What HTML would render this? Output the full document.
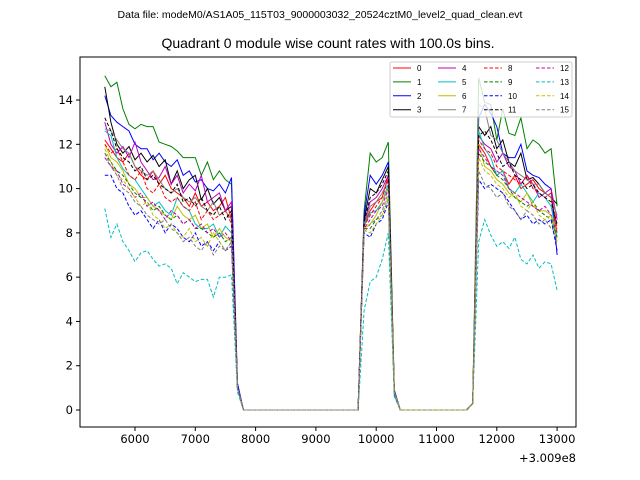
<!DOCTYPE html>
<html><head><meta charset="utf-8"><style>
body{margin:0;background:#fff;}
svg{display:block;font-family:"Liberation Sans","DejaVu Sans",sans-serif;}
</style></head><body>
<svg id="chart" width="640" height="480">
<text x="320" y="18" font-size="10.5" text-anchor="middle">Data file: modeM0/AS1A05_115T03_9000003032_20524cztM0_level2_quad_clean.evt</text>
<text x="328" y="48" font-size="14" text-anchor="middle">Quadrant 0 module wise count rates with 100.0s bins.</text>
<g id="axes"></g>
<g id="series"></g>
<g id="legend"></g>
</svg>
<script>
const xTicks=[6000,7000,8000,9000,10000,11000,12000,13000];
const yTicks=[0,2,4,6,8,10,12,14];
const seg1Times=[5500,5600,5700,5800,5900,6000,6100,6200,6300,6400,6500,6600,6700,6800,6900,7000,7100,7200,7300,7400,7500,7600,7700];
const gapATimes=[7800,7900,8000,8100,8200,8300,8400,8500,8600,8700,8800,8900,9000,9100,9200,9300,9400,9500,9600,9700];
const seg2Times=[9800,9900,10000,10100,10200,10300];
const gapBTimes=[10400,10500,10600,10700,10800,10900,11000,11100,11200,11300,11400,11500];
const seg3Times=[11600,11700,11800,11900,12000,12100,12200,12300,12400,12500,12600,12700,12800,12900,13000];
const gapA=[0,0,0,0,0,0,0,0,0,0,0,0,0,0,0,0,0,0,0,0];
const gapB=[0,0,0,0,0,0,0,0,0,0,0,0];
const names=["0","1","2","3","4","5","6","7","8","9","10","11","12","13","14","15"];
const colors=["#ff0000","#008000","#0000ff","#000000","#bf00bf","#00bfbf","#bfbf00","#808080","#ff0000","#008000","#0000ff","#000000","#bf00bf","#00bfbf","#bfbf00","#808080"];
const s1=[
[12.2,11.8,11.4,11.2,11.6,11.0,10.6,10.4,10.8,10.2,10.6,10.0,9.8,9.6,9.2,9.8,9.2,9.4,9.0,9.2,9.6,8.6,1.0],
[15.1,14.6,14.8,13.6,12.9,12.7,12.9,12.8,12.8,12.1,12.0,11.9,11.7,11.4,11.4,11.4,10.6,11.2,10.4,10.8,10.4,10.2,1.0],
[14.2,13.3,13.0,12.8,12.6,12.0,11.8,11.8,11.3,11.6,11.2,11.0,11.3,10.6,10.8,10.3,10.4,10.0,9.9,10.2,9.8,10.5,1.2],
[14.6,13.0,12.0,11.6,11.9,11.3,11.6,11.2,11.5,11.0,11.3,10.2,10.8,10.0,10.4,10.6,9.5,10.0,9.3,9.6,9.0,9.2,1.0],
[13.0,12.0,11.6,11.9,11.4,12.1,11.2,10.8,10.4,10.5,11.0,10.2,10.6,9.8,10.2,9.9,10.6,9.4,9.6,9.8,9.0,9.4,1.0],
[12.6,12.4,11.4,10.9,10.6,10.4,10.0,9.6,9.2,9.4,9.0,8.8,9.6,9.2,9.0,8.4,8.2,8.2,8.4,7.8,8.3,8.0,1.0],
[12.0,11.4,11.2,10.8,10.2,10.0,9.6,9.6,9.2,9.0,8.8,8.6,9.2,8.8,8.6,8.8,8.2,8.4,7.8,8.2,7.8,7.6,1.0],
[12.7,12.6,12.2,11.8,11.6,11.0,10.8,10.6,10.8,10.4,10.0,9.8,10.0,9.6,9.4,9.6,9.2,9.0,9.4,8.8,9.0,8.6,1.0],
[12.0,11.6,11.8,11.2,10.6,10.4,10.8,10.0,9.8,10.2,9.6,9.4,9.6,9.2,9.0,9.4,8.6,9.0,8.6,8.8,9.0,8.4,1.0],
[11.6,11.2,10.8,10.6,10.2,9.8,9.6,9.4,9.0,9.2,8.8,8.6,8.8,8.4,8.6,8.2,8.2,8.0,7.8,8.0,7.6,7.8,1.0],
[10.6,10.6,10.0,9.8,9.2,8.8,9.0,8.6,8.2,8.6,8.0,8.4,8.2,7.8,7.6,8.0,7.4,7.6,7.2,7.6,7.2,7.4,1.0],
[13.2,12.6,11.8,11.4,11.2,10.8,11.0,10.4,10.6,10.2,10.0,9.8,10.2,9.4,9.6,9.2,9.6,9.0,8.8,9.2,8.6,9.0,1.0],
[11.4,11.0,10.8,10.2,10.0,9.6,9.8,9.2,9.4,9.0,8.6,9.0,8.8,8.4,8.6,8.2,8.4,8.0,8.2,7.8,8.0,7.6,1.0],
[9.1,7.8,8.4,7.6,7.2,6.7,7.1,7.2,6.8,6.5,6.6,6.4,5.7,6.2,6.0,5.8,5.9,5.9,5.1,6.0,6.0,6.1,0.8],
[11.8,11.2,10.6,10.4,10.0,9.6,9.2,9.4,8.8,8.6,8.2,8.4,8.0,7.8,8.2,7.6,7.8,7.4,8.0,7.6,7.2,7.6,1.0],
[11.6,11.0,10.6,10.0,9.8,9.4,9.2,8.8,8.6,8.4,8.6,8.2,8.0,7.6,7.8,7.4,7.2,7.6,7.0,7.4,7.2,7.6,1.0]];
const s2=[
[8.4,9.0,9.4,9.6,10.6,0.8],[9.0,11.6,11.2,11.4,12.1,0.9],[8.8,10.6,10.2,10.6,11.2,0.9],[8.6,10.0,9.8,10.4,11.0,0.8],
[8.5,9.4,9.6,10.0,10.6,0.8],[8.3,8.9,9.0,9.4,10.2,0.8],[8.2,8.4,8.8,9.4,10.0,0.8],[8.4,9.2,9.4,9.8,10.4,0.8],
[8.3,8.8,9.2,9.6,10.4,0.8],[8.2,8.2,8.6,8.8,9.6,0.8],[8.0,7.8,8.4,8.6,9.4,0.7],[8.5,9.6,9.8,10.2,10.8,0.8],
[8.2,8.6,9.0,9.2,10.0,0.8],[4.5,5.8,6.0,6.8,8.0,0.6],[8.1,8.0,8.4,8.8,9.6,0.8],[8.0,8.4,8.6,9.0,9.8,0.8]];
const s3=[
[0.3,12.0,11.6,11.0,10.6,10.8,10.2,10.6,10.0,10.2,10.4,10.0,9.8,9.6,8.0],
[0.3,15.0,13.9,13.8,12.2,13.6,12.5,12.4,13.2,11.8,12.2,12.0,11.6,11.8,9.2],
[0.3,13.2,13.8,13.4,12.8,11.6,11.4,11.4,12.0,10.8,10.6,10.5,10.2,10.0,7.0],
[0.3,12.8,12.4,12.8,11.8,12.2,11.2,11.0,11.6,10.4,10.5,10.2,9.8,9.6,9.3],
[0.3,12.4,12.0,11.8,11.2,11.6,11.0,10.8,10.2,10.6,10.2,9.6,9.8,10.0,8.6],
[0.3,12.6,11.8,11.4,10.6,10.8,10.0,9.8,10.2,9.8,9.4,9.8,9.6,9.2,7.8],
[0.3,12.0,11.0,10.8,10.4,10.2,9.8,9.6,9.4,9.8,9.2,9.0,9.0,8.8,7.6],
[0.3,13.8,13.6,12.4,12.2,11.6,11.2,10.8,10.6,10.4,10.2,10.2,9.8,9.6,8.8],
[0.3,12.2,11.8,11.6,11.0,10.8,10.6,10.4,10.2,10.6,10.0,9.8,9.6,9.8,8.2],
[0.3,11.6,11.2,11.0,10.6,10.4,10.0,9.6,9.4,9.2,9.4,9.0,8.8,8.6,7.8],
[0.3,10.4,10.0,10.2,10.0,9.8,9.4,9.0,8.6,8.8,8.4,8.6,8.4,8.6,7.2],
[0.3,12.4,12.6,12.2,11.6,11.0,11.2,10.6,10.4,10.0,10.2,9.8,9.6,9.4,8.4],
[0.3,11.8,11.4,11.0,10.8,10.6,10.0,9.8,9.6,9.4,9.2,9.0,9.2,8.8,8.0],
[0.3,7.6,8.6,7.9,7.4,7.6,7.3,7.8,6.8,6.6,7.0,6.4,6.7,6.6,5.4],
[0.3,11.4,10.8,10.6,10.2,10.0,9.6,9.8,9.2,9.0,9.4,8.8,8.6,8.8,8.0],
[0.3,10.8,10.2,10.0,9.6,9.8,9.2,9.0,8.6,9.0,8.8,8.4,8.6,8.2,8.0]];

const NS="http://www.w3.org/2000/svg";
const L=80,R=576,T=57,B=427;
function X(t){return 135+(t-6000)*0.0603;}
function Y(v){return 410-v*22.14;}
function mk(tag,attrs,parent){const e=document.createElementNS(NS,tag);for(const k in attrs)e.setAttribute(k,attrs[k]);parent.appendChild(e);return e;}
const axes=document.getElementById('axes');
const frame=mk('rect',{x:L,y:T,width:R-L,height:B-T,fill:'none',stroke:'#000','stroke-width':1},axes);


xTicks.forEach(t=>{
  const l=mk('line',{x1:X(t),x2:X(t),y1:B,y2:B+4,stroke:'#000'},axes);
  
  
  const tx=mk('text',{x:X(t),y:B+16,'font-size':11.5,'text-anchor':'middle','font-family':'"DejaVu Sans","Liberation Sans",sans-serif'},axes);tx.textContent=t;
  
  
});
yTicks.forEach(v=>{
  const l=mk('line',{x1:L-4,x2:L,y1:Y(v),y2:Y(v),stroke:'#000'},axes);
  
  
  const tx=mk('text',{x:L-7,y:Y(v)+4,'font-size':11.5,'text-anchor':'end','font-family':'"DejaVu Sans","Liberation Sans",sans-serif'},axes);tx.textContent=v;
  
  
});
const off=mk('text',{x:576,y:462,'font-size':11.5,'text-anchor':'end','font-family':'"DejaVu Sans","Liberation Sans",sans-serif'},axes);off.textContent='+3.009e8';



const times=seg1Times.concat(gapATimes,seg2Times,gapBTimes,seg3Times);
const sg=document.getElementById('series');
for(let i=0;i<16;i++){
  const vals=s1[i].concat(gapA,s2[i],gapB,s3[i]);
  const pts=vals.map((v,j)=>X(times[j]).toFixed(1)+','+Y(v).toFixed(1)).join(' ');
  const p=mk('polyline',{points:pts,fill:'none',stroke:colors[i],'stroke-width':1,'stroke-dasharray':i>=8?'3.5,2':'none'},sg);
  
  
}
const lg=document.getElementById('legend');
const box=mk('rect',{x:390,y:62,width:182,height:55,fill:'#fff','fill-opacity':0.8,stroke:'#ccc',rx:2},lg);


const colX=[393,438,484,536];
for(let i=0;i<16;i++){
  const c=Math.floor(i/4),r=i%4;const y=68+r*13.9;
  const l=mk('line',{x1:colX[c],x2:colX[c]+18,y1:y,y2:y,stroke:colors[i],'stroke-width':1,'stroke-dasharray':i>=8?'3.5,2':'none'},lg);
  
  
  const t=mk('text',{x:colX[c]+24,y:y+3,'font-size':8},lg);t.textContent=names[i];
  
  
}
</script>
</body></html>
